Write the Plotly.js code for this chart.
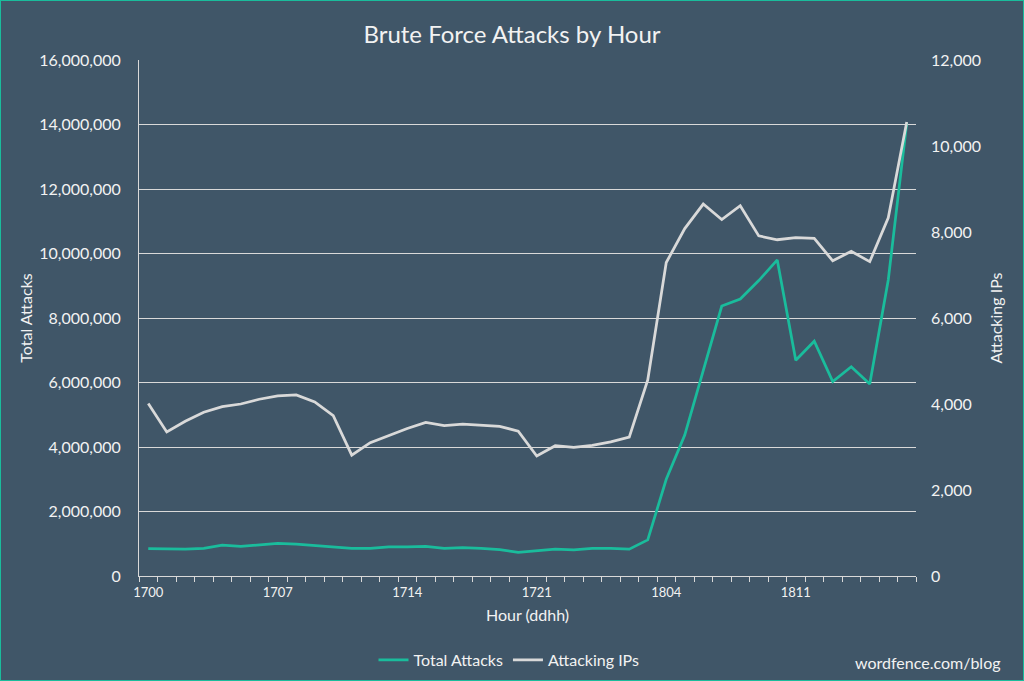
<!DOCTYPE html>
<html>
<head>
<meta charset="utf-8">
<script src="https://cdn.plot.ly/plotly-3.0.1.min.js"></script>
<style>
  html, body { margin: 0; padding: 0; background: #1abc9c; width: 1024px; height: 681px; overflow: hidden; }
  #chart { position: absolute; left: 1px; top: 1px; width: 1022px; height: 679px; }
</style>
</head>
<body>
<div id="chart"></div>
<script>
const hours = ["1700","1701","1702","1703","1704","1705","1706","1707","1708","1709","1710","1711",
  "1712","1713","1714","1715","1716","1717","1718","1719","1720","1721","1722","1723",
  "1800","1801","1802","1803","1804","1805","1806","1807","1808","1809","1810","1811",
  "1812","1813","1814","1815","1816","1817"];
const totalAttacks = [850000, 850000, 830000, 860000, 960000, 920000, 960000, 1010000, 990000, 950000,
  890000, 860000, 860000, 900000, 900000, 920000, 860000, 880000, 860000, 820000,
  730000, 780000, 830000, 810000, 860000, 860000, 830000, 1120000, 3000000, 4370000,
  6390000, 8370000, 8590000, 9160000, 9800000, 6690000, 7280000, 6030000, 6490000, 5950000,
  9180000, 14050000];
const attackingIPs = [4010, 3350, 3600, 3810, 3940, 4000, 4110, 4190, 4210, 4050,
  3730, 2810, 3100, 3260, 3430, 3570, 3500, 3530, 3500, 3480,
  3370, 2790, 3030, 2990, 3040, 3120, 3230, 4560, 7290, 8080,
  8650, 8290, 8610, 7910, 7820, 7870, 7850, 7330, 7550, 7310,
  8330, 10560];
const shownHours = ["1700","1707","1714","1721","1804","1811"];

const bg = "#405668";
const txt = "#f2f2f2";
const grid = "#d9d9d9";
const font = "Lato, 'Open Sans', sans-serif";

const traces = [
  { x: hours, y: totalAttacks, type: "scatter", mode: "lines", name: "Total Attacks",
    line: { color: "#1abc9c", width: 2.75 }, yaxis: "y" },
  { x: hours, y: attackingIPs, type: "scatter", mode: "lines", name: "Attacking IPs",
    line: { color: "#d9d9d9", width: 2.75 }, yaxis: "y2" }
];

const layout = {
  width: 1022, height: 679,
  paper_bgcolor: bg, plot_bgcolor: bg,
  font: { family: font, color: txt, size: 15 },
  margin: { l: 138, r: 107, t: 59, b: 104, autoexpand: false },
  title: { text: "Brute Force Attacks by Hour", font: { size: 24, color: txt, family: font },
           x: 0.5, xanchor: "center", y: 1 - 34/679, yanchor: "middle" },
  xaxis: {
    type: "category", categoryorder: "array", categoryarray: hours,
    range: [-0.5, hours.length - 0.5], automargin: false,
    tickmode: "array", tickvals: hours, tickangle: 0,
    ticktext: hours.map(h => shownHours.includes(h) ? h : ""),
    tickson: "boundaries", ticks: "outside", ticklen: 5, tickcolor: grid, tickwidth: 1,
    ticklabelstandoff: 4,
    showgrid: false, showline: true, linecolor: grid, linewidth: 1, zeroline: false,
    tickfont: { size: 13, color: txt },
    title: { text: "Hour (ddhh)", font: { size: 16, color: txt }, standoff: 11 }
  },
  yaxis: {
    range: [0, 16000000], dtick: 2000000, tickformat: ",d", automargin: false,
    showgrid: true, gridcolor: grid, gridwidth: 1,
    showline: true, linecolor: grid, linewidth: 1, zeroline: false,
    ticks: "", ticklabelstandoff: 14,
    tickfont: { size: 16, color: txt },
    title: { text: "Total Attacks", font: { size: 16, color: txt }, standoff: 2 }
  },
  yaxis2: {
    overlaying: "y", side: "right", automargin: false,
    range: [0, 12000], dtick: 2000, tickformat: ",d",
    showgrid: false, showline: false, zeroline: false,
    ticks: "", ticklabelstandoff: 14,
    tickfont: { size: 16, color: txt },
    title: { text: "Attacking IPs", font: { size: 16, color: txt }, standoff: 10 }
  },
  showlegend: true,
  legend: { orientation: "h", x: (509 - 139) / 777, xanchor: "center",
            yref: "container", y: 1 - 659 / 679, yanchor: "middle",
            font: { size: 16, color: txt }, bgcolor: "rgba(0,0,0,0)" },
  annotations: [
    { text: "wordfence.com/blog", xref: "paper", yref: "paper",
      x: (1003 - 139) / 777, y: (576 - 662) / 516, xanchor: "right", yanchor: "middle",
      showarrow: false, font: { size: 16, color: txt } }
  ]
};

Plotly.newPlot("chart", traces, layout, { displayModeBar: false, staticPlot: true });
</script>
</body>
</html>
